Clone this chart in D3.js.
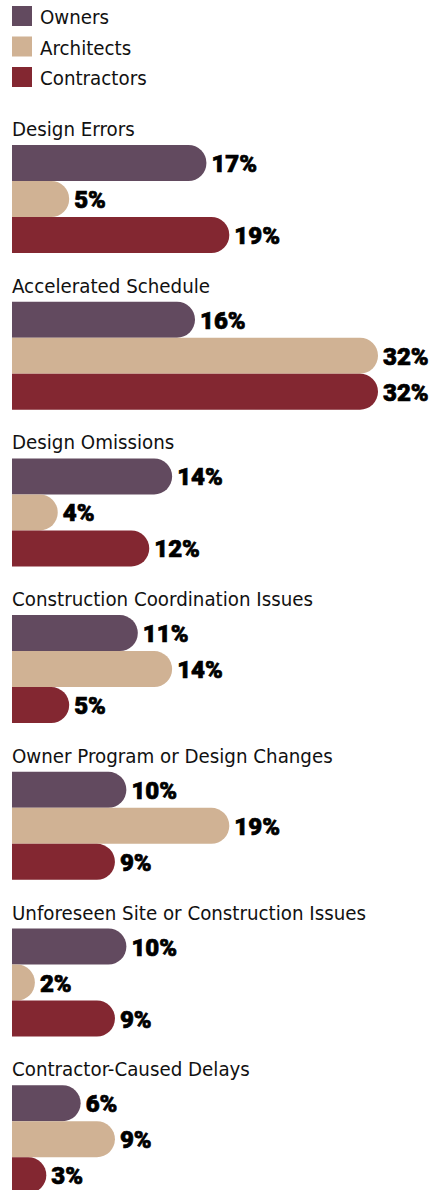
<!DOCTYPE html>
<html>
  <head>
    <meta charset="utf-8" />
    <title>Causes of Change</title>
    <script src="https://d3js.org/d3.v7.min.js"></script>
    <style>
      body { margin: 0; background: #fff; }
      .cat, .leg { font-family: "DejaVu Sans Condensed", "DejaVu Sans", sans-serif; font-stretch: condensed; font-size: 20.3px; fill: #111; }
      .val { font-family: Roboto, "DejaVu Sans", sans-serif; font-weight: 900; font-size: 24px; fill: #000; stroke: #000; stroke-width: 0.7px; }
    </style>
  </head>
  <body>
    <svg id="chart"></svg>
    <script>
      var categories = ["Design Errors", "Accelerated Schedule", "Design Omissions",
        "Construction Coordination Issues", "Owner Program or Design Changes",
        "Unforeseen Site or Construction Issues", "Contractor-Caused Delays"];
      var seriesNames = ["Owners", "Architects", "Contractors"];
      var owners = [17, 16, 14, 11, 10, 10, 6];
      var architects = [5, 32, 4, 14, 19, 2, 9];
      var contractors = [19, 32, 12, 5, 9, 9, 3];
      var colors = ["#624a5f", "#d0b294", "#832731"];

      var width = 434, height = 1190;
      var svg = d3.select("#chart").attr("width", width).attr("height", height);

      var series = [owners, architects, contractors];
      var barH = 36;
      var groupTop = 145, groupStep = 156.7;

      var x = d3.scaleLinear().domain([0, 32]).range([12, 378]);
      var yGroup = d3.scaleLinear().domain([0, 1]).range([groupTop, groupTop + groupStep]);
      var ySeries = d3.scaleBand().domain(d3.range(3)).range([0, barH * 3]);

      // legend
      var leg = svg.append("g").selectAll("g").data(seriesNames).join("g")
        .attr("transform", function(d, i) { return "translate(12," + (6 + i * 30.5) + ")"; });
      leg.append("rect").attr("width", 20).attr("height", 20)
        .attr("fill", function(d, i) { return colors[i]; });
      leg.append("text").attr("class", "leg").attr("x", 28).attr("y", 18).text(function(d) { return d; });

      // bar with a round right end
      function barPath(x0, x1, y0, h) {
        var r = h / 2;
        var xr = Math.max(x0, x1 - r);
        return "M" + x0 + "," + y0 + "H" + xr +
          "A" + r + "," + r + " 0 0 1 " + xr + "," + (y0 + h) +
          "H" + x0 + "Z";
      }

      var groups = svg.append("g").selectAll("g").data(categories).join("g")
        .attr("transform", function(d, i) { return "translate(0," + yGroup(i) + ")"; });

      groups.append("text").attr("class", "cat").attr("x", 12).attr("y", -9)
        .text(function(d) { return d; });

      groups.each(function(c, gi) {
        var g = d3.select(this);
        var rows = series.map(function(s, si) { return { v: s[gi], si: si }; });
        g.selectAll("path").data(rows).join("path")
          .attr("d", function(d) { return barPath(x(0), x(d.v), ySeries(d.si), barH); })
          .attr("fill", function(d) { return colors[d.si]; });
        g.selectAll("text.val").data(rows).join("text")
          .attr("class", "val")
          .attr("x", function(d) { return x(d.v) + 5; })
          .attr("y", function(d) { return ySeries(d.si) + barH / 2 + 9; })
          .text(function(d) { return d.v + "%"; });
      });
    </script>
  </body>
</html>
